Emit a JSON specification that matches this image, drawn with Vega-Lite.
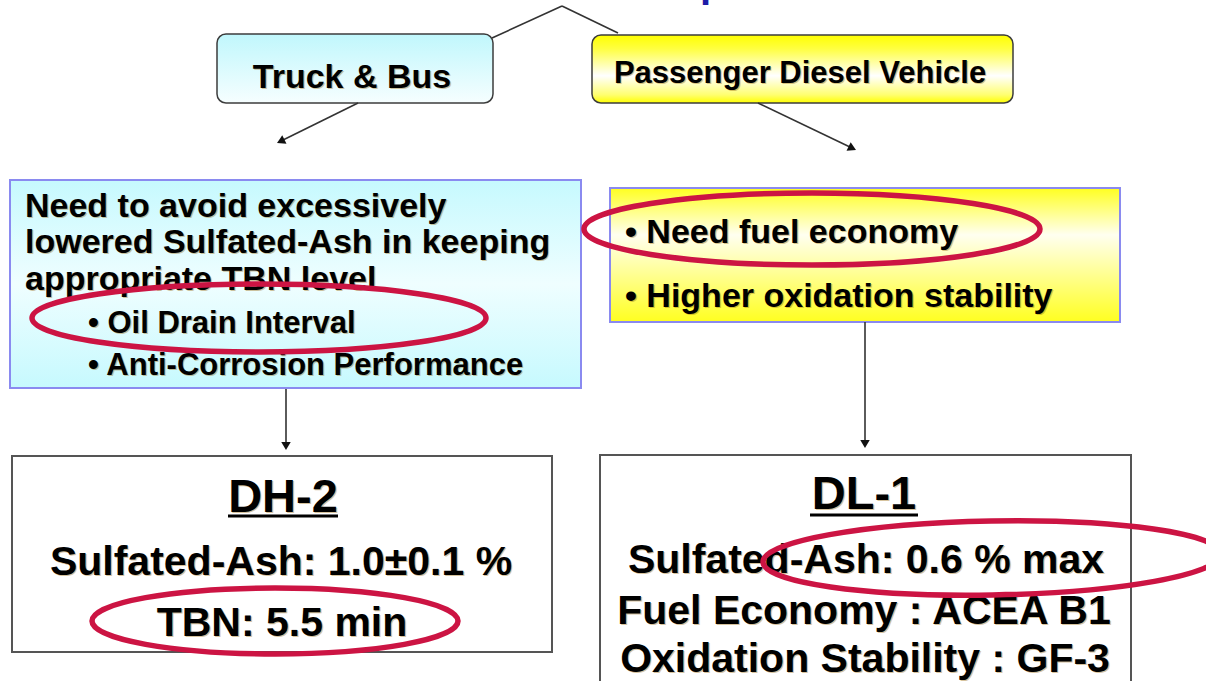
{
  "$schema": "https://vega.github.io/schema/vega-lite/v6.json",
  "width": 1206,
  "height": 681,
  "autosize": {"type": "none"},
  "padding": 0,
  "background": "white",
  "config": {"view": {"stroke": null}, "text": {"font": "Liberation Sans", "fontWeight": "bold", "baseline": "alphabetic"}},
  "datasets": {
    "boxes": [
      {"id": "tb", "x": 217, "x2": 493, "y": 34, "y2": 103},
      {"id": "pd", "x": 592, "x2": 1013, "y": 35, "y2": 103},
      {"id": "left", "x": 10, "x2": 581, "y": 180, "y2": 388},
      {"id": "right", "x": 610, "x2": 1120, "y": 188, "y2": 322},
      {"id": "dh", "x": 12, "x2": 552, "y": 456, "y2": 652},
      {"id": "dl", "x": 600, "x2": 1131, "y": 455, "y2": 700}
    ],
    "lines": [
      {"kind": "conn", "x": 492, "y": 38, "x2": 562, "y2": 6},
      {"kind": "conn", "x": 562, "y": 6, "x2": 618, "y2": 33},
      {"kind": "conn", "x": 358, "y": 103, "x2": 281, "y2": 141},
      {"kind": "conn", "x": 758, "y": 103, "x2": 852, "y2": 148},
      {"kind": "conn", "x": 286, "y": 389, "x2": 286, "y2": 446},
      {"kind": "conn", "x": 865, "y": 322, "x2": 865, "y2": 444},
      {"kind": "under", "x": 228, "y": 516, "x2": 338, "y2": 516},
      {"kind": "under", "x": 810, "y": 515, "x2": 918, "y2": 515}
    ],
    "heads": [
      {"id": "v", "x": 286, "y": 446},
      {"id": "v", "x": 865, "y": 444},
      {"id": "dl", "x": 280.7, "y": 141.2},
      {"id": "dr", "x": 852.3, "y": 148.2}
    ],
    "texts": [
      {"t": "Truck & Bus", "x": 352, "y": 88, "role": "tb"},
      {"t": "Passenger Diesel Vehicle", "x": 800, "y": 83, "role": "pd"},
      {"t": "DH-2", "x": 283, "y": 512, "role": "code"},
      {"t": "Sulfated-Ash: 1.0±0.1 %", "x": 281, "y": 575, "role": "spec"},
      {"t": "TBN: 5.5 min", "x": 282, "y": 636, "role": "spec"},
      {"t": "DL-1", "x": 864, "y": 509, "role": "code"},
      {"t": "Sulfated-Ash: 0.6 % max", "x": 866, "y": 573, "role": "spec"},
      {"t": "Fuel Economy : ACEA B1", "x": 864, "y": 624, "role": "spec"},
      {"t": "Oxidation Stability : GF-3", "x": 865, "y": 672, "role": "spec"},
      {"t": "Need to avoid excessively", "x": 25, "y": 217, "role": "need"},
      {"t": "lowered Sulfated-Ash in keeping", "x": 25, "y": 253, "role": "need"},
      {"t": "appropriate TBN level", "x": 25, "y": 290, "role": "need"},
      {"t": "• Oil Drain Interval", "x": 88, "y": 333, "role": "bs"},
      {"t": "• Anti-Corrosion Performance", "x": 88, "y": 375, "role": "bs"},
      {"t": "• Need fuel economy", "x": 625, "y": 243, "role": "need"},
      {"t": "• Higher oxidation stability", "x": 625, "y": 307, "role": "need"}
    ],
    "title": [{"t": "p", "x": 700, "y": -3}],
    "ellipses": [
      {"id": "oil", "x": 259, "y": 318},
      {"id": "fuel", "x": 812, "y": 229},
      {"id": "tbn", "x": 275, "y": 621},
      {"id": "dl", "x": 992, "y": 558}
    ]
  },
  "encoding": {
    "x": {"field": "x", "type": "quantitative", "scale": {"domain": [0, 1206], "nice": false, "zero": false}, "axis": null},
    "y": {"field": "y", "type": "quantitative", "scale": {"domain": [0, 681], "nice": false, "zero": false, "reverse": true}, "axis": null}
  },
  "layer": [
    {
      "data": {"name": "boxes"},
      "transform": [{"filter": "datum.id == 'tb'"}],
      "mark": {"type": "rect", "cornerRadius": 9, "stroke": "#3c3c3c", "strokeWidth": 1.5,
        "fill": {"gradient": "linear", "x1": 0, "y1": 0, "x2": 0, "y2": 1, "stops": [{"offset": 0, "color": "#c0f7fc"}, {"offset": 1, "color": "#f6feff"}]}},
      "encoding": {"x2": {"field": "x2"}, "y2": {"field": "y2"}}
    },
    {
      "data": {"name": "boxes"},
      "transform": [{"filter": "datum.id == 'pd'"}],
      "mark": {"type": "rect", "cornerRadius": 9, "stroke": "#3c3c3c", "strokeWidth": 1.5,
        "fill": {"gradient": "linear", "x1": 0, "y1": 0, "x2": 0, "y2": 1, "stops": [{"offset": 0, "color": "#ffff00"}, {"offset": 0.2, "color": "#ffff40"}, {"offset": 0.6, "color": "#ffffff"}, {"offset": 0.88, "color": "#ffff70"}, {"offset": 1, "color": "#ffff00"}]}},
      "encoding": {"x2": {"field": "x2"}, "y2": {"field": "y2"}}
    },
    {
      "data": {"name": "boxes"},
      "transform": [{"filter": "datum.id == 'left'"}],
      "mark": {"type": "rect", "stroke": "#8a8af0", "strokeWidth": 2,
        "fill": {"gradient": "linear", "x1": 0, "y1": 0, "x2": 0, "y2": 1, "stops": [{"offset": 0, "color": "#c6f9fe"}, {"offset": 0.5, "color": "#effeff"}, {"offset": 1, "color": "#c6f9fe"}]}},
      "encoding": {"x2": {"field": "x2"}, "y2": {"field": "y2"}}
    },
    {
      "data": {"name": "boxes"},
      "transform": [{"filter": "datum.id == 'right'"}],
      "mark": {"type": "rect", "stroke": "#8a8af0", "strokeWidth": 2,
        "fill": {"gradient": "linear", "x1": 0, "y1": 0, "x2": 0, "y2": 1, "stops": [{"offset": 0, "color": "#ffff20"}, {"offset": 0.35, "color": "#fffff0"}, {"offset": 1, "color": "#ffff20"}]}},
      "encoding": {"x2": {"field": "x2"}, "y2": {"field": "y2"}}
    },
    {
      "data": {"name": "boxes"},
      "transform": [{"filter": "datum.id == 'dh' || datum.id == 'dl'"}],
      "mark": {"type": "rect", "fill": "#ffffff", "stroke": "#555555", "strokeWidth": 2},
      "encoding": {"x2": {"field": "x2"}, "y2": {"field": "y2"}}
    },
    {
      "data": {"name": "lines"},
      "transform": [{"filter": "datum.kind == 'conn'"}],
      "mark": {"type": "rule", "color": "#333333", "strokeWidth": 1.6},
      "encoding": {"x2": {"field": "x2"}, "y2": {"field": "y2"}}
    },
    {
      "data": {"name": "lines"},
      "transform": [{"filter": "datum.kind == 'under'"}],
      "mark": {"type": "rule", "color": "#000000", "strokeWidth": 3},
      "encoding": {"x2": {"field": "x2"}, "y2": {"field": "y2"}}
    },
    {
      "data": {"name": "heads"},
      "transform": [{"filter": "datum.id == 'v'"}],
      "mark": {"type": "point", "shape": "triangle-down", "filled": true, "color": "#111111", "size": 90, "opacity": 1}
    },
    {
      "data": {"name": "heads"},
      "transform": [{"filter": "datum.id == 'dl'"}],
      "mark": {"type": "point", "shape": "triangle-down", "filled": true, "color": "#111111", "size": 90, "opacity": 1, "angle": 63.7}
    },
    {
      "data": {"name": "heads"},
      "transform": [{"filter": "datum.id == 'dr'"}],
      "mark": {"type": "point", "shape": "triangle-down", "filled": true, "color": "#111111", "size": 90, "opacity": 1, "angle": -64.4}
    },
    {"data": {"name": "texts"}, "transform": [{"filter": "datum.role == 'tb'"}], "mark": {"type": "text", "align": "center", "fontSize": 34, "color": "#9a6a10", "opacity": 0.4, "dx": 1.2, "dy": 1.2}, "encoding": {"text": {"field": "t"}}},
    {"data": {"name": "texts"}, "transform": [{"filter": "datum.role == 'pd'"}], "mark": {"type": "text", "align": "center", "fontSize": 31, "color": "#9a6a10", "opacity": 0.4, "dx": 1.2, "dy": 1.2}, "encoding": {"text": {"field": "t"}}},
    {"data": {"name": "texts"}, "transform": [{"filter": "datum.role == 'code'"}], "mark": {"type": "text", "align": "center", "fontSize": 47, "color": "#9a6a10", "opacity": 0.4, "dx": 1.2, "dy": 1.2}, "encoding": {"text": {"field": "t"}}},
    {"data": {"name": "texts"}, "transform": [{"filter": "datum.role == 'spec'"}], "mark": {"type": "text", "align": "center", "fontSize": 41, "color": "#9a6a10", "opacity": 0.4, "dx": 1.2, "dy": 1.2}, "encoding": {"text": {"field": "t"}}},
    {"data": {"name": "texts"}, "transform": [{"filter": "datum.role == 'need'"}], "mark": {"type": "text", "align": "left", "fontSize": 34, "color": "#9a6a10", "opacity": 0.4, "dx": 1.2, "dy": 1.2}, "encoding": {"text": {"field": "t"}}},
    {"data": {"name": "texts"}, "transform": [{"filter": "datum.role == 'bs'"}], "mark": {"type": "text", "align": "left", "fontSize": 31, "color": "#9a6a10", "opacity": 0.4, "dx": 1.2, "dy": 1.2}, "encoding": {"text": {"field": "t"}}},
    {"data": {"name": "texts"}, "transform": [{"filter": "datum.role == 'tb'"}], "mark": {"type": "text", "align": "center", "fontSize": 34, "color": "#000000"}, "encoding": {"text": {"field": "t"}}},
    {"data": {"name": "texts"}, "transform": [{"filter": "datum.role == 'pd'"}], "mark": {"type": "text", "align": "center", "fontSize": 31, "color": "#000000"}, "encoding": {"text": {"field": "t"}}},
    {"data": {"name": "texts"}, "transform": [{"filter": "datum.role == 'code'"}], "mark": {"type": "text", "align": "center", "fontSize": 47, "color": "#000000"}, "encoding": {"text": {"field": "t"}}},
    {"data": {"name": "texts"}, "transform": [{"filter": "datum.role == 'spec'"}], "mark": {"type": "text", "align": "center", "fontSize": 41, "color": "#000000"}, "encoding": {"text": {"field": "t"}}},
    {"data": {"name": "texts"}, "transform": [{"filter": "datum.role == 'need'"}], "mark": {"type": "text", "align": "left", "fontSize": 34, "color": "#000000"}, "encoding": {"text": {"field": "t"}}},
    {"data": {"name": "texts"}, "transform": [{"filter": "datum.role == 'bs'"}], "mark": {"type": "text", "align": "left", "fontSize": 31, "color": "#000000"}, "encoding": {"text": {"field": "t"}}},
    {
      "data": {"name": "title"},
      "mark": {"type": "text", "align": "left", "fontSize": 40, "color": "#1c1ca8"},
      "encoding": {"text": {"field": "t"}}
    },
    {
      "data": {"name": "ellipses"},
      "transform": [{"filter": "datum.id == 'oil'"}],
      "mark": {"type": "point", "filled": false, "color": "#cc1443", "strokeWidth": 5.5, "opacity": 1, "size": 206116,
        "shape": "M-1,0C-1,-0.0827,-0.5523,-0.1498,0,-0.1498C0.5523,-0.1498,1,-0.0827,1,0C1,0.0827,0.5523,0.1498,0,0.1498C-0.5523,0.1498,-1,0.0827,-1,0Z"}
    },
    {
      "data": {"name": "ellipses"},
      "transform": [{"filter": "datum.id == 'fuel'"}],
      "mark": {"type": "point", "filled": false, "color": "#cc1443", "strokeWidth": 5.5, "opacity": 1, "size": 207936,
        "shape": "M-1,0C-1,-0.0872,-0.5523,-0.1579,0,-0.1579C0.5523,-0.1579,1,-0.0872,1,0C1,0.0872,0.5523,0.1579,0,0.1579C-0.5523,0.1579,-1,0.0872,-1,0Z"}
    },
    {
      "data": {"name": "ellipses"},
      "transform": [{"filter": "datum.id == 'tbn'"}],
      "mark": {"type": "point", "filled": false, "color": "#cc1443", "strokeWidth": 5.5, "opacity": 1, "size": 133956,
        "shape": "M-1,0C-1,-0.0996,-0.5523,-0.1803,0,-0.1803C0.5523,-0.1803,1,-0.0996,1,0C1,0.0996,0.5523,0.1803,0,0.1803C-0.5523,0.1803,-1,0.0996,-1,0Z"}
    },
    {
      "data": {"name": "ellipses"},
      "transform": [{"filter": "datum.id == 'dl'"}],
      "mark": {"type": "point", "filled": false, "color": "#cc1443", "strokeWidth": 5.5, "opacity": 1, "size": 209764, "angle": -1,
        "shape": "M-1,0C-1,-0.0892,-0.5523,-0.1616,0,-0.1616C0.5523,-0.1616,1,-0.0892,1,0C1,0.0892,0.5523,0.1616,0,0.1616C-0.5523,0.1616,-1,0.0892,-1,0Z"}
    }
  ]
}
